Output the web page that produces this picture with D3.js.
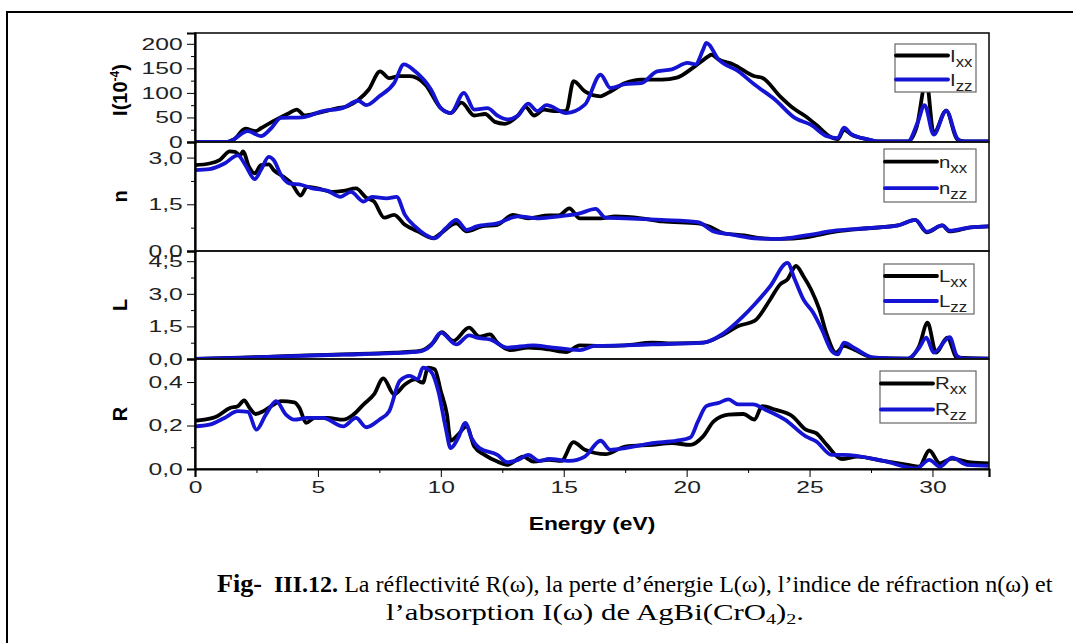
<!DOCTYPE html>
<html>
<head>
<meta charset="utf-8">
<script src="https://cdn.jsdelivr.net/npm/d3@7"></script>
<style>
  body { margin: 0; background: #fff; }
  svg { display: block; }
</style>
</head>
<body>
<svg id="fig" width="1073" height="643"></svg>
<script>
// energy axis
var energyTicks = [0, 5, 10, 15, 20, 25, 30];
var energyMinor = [2.5, 7.5, 12.5, 17.5, 22.5, 27.5];

// I(10^-4)
var Ixx = [[0,0],[1.2,0],[1.6,6],[2.05,27],[2.47,22],[2.68,28],[3.4,48],[3.8,58],[4.14,66],[4.46,54],[4.98,59],[5.8,69],[6.2,73],[6.65,86],[7.07,107],[7.53,144],[7.9,130],[8.3,134],[8.74,134],[9.37,117],[10.0,69],[10.4,59],[10.84,80],[11.36,54],[11.8,57],[12.2,41],[12.6,37],[13.1,52],[13.45,71],[13.8,54],[14.2,66],[14.6,63],[15.1,63],[15.4,124],[15.86,103],[16.5,93],[16.8,100],[17.5,120],[18.15,127],[19.0,127],[19.6,131],[20.25,151],[20.9,175],[21.0,178],[21.3,168],[21.9,158],[22.76,134],[23.07,131],[23.8,93],[24.33,69],[24.85,52],[25.27,35],[25.8,12],[26.15,6],[26.4,25],[26.7,15],[27.4,5],[27.8,1],[29.0,1],[29.35,29],[29.75,125],[30.05,18],[30.56,64],[31.0,6],[31.3,1],[32.3,1]];
var Izz = [[0,0],[1.2,0],[1.4,1],[2.15,22],[2.68,12],[3.1,28],[3.5,49],[4.35,50],[5.2,63],[6.0,69],[6.65,84],[6.97,75],[7.5,93],[8.1,120],[8.5,158],[8.95,144],[9.6,107],[10.0,69],[10.4,59],[10.94,100],[11.36,66],[11.9,69],[12.3,54],[12.7,46],[13.14,54],[13.55,78],[13.93,63],[14.3,75],[15.1,59],[15.86,76],[16.5,137],[16.9,110],[17.5,118],[18.15,120],[18.8,144],[19.4,148],[20.04,161],[20.36,158],[20.67,188],[20.8,202],[21.3,168],[22.1,144],[22.76,117],[23.6,86],[24.4,49],[25.06,35],[25.7,12],[26.15,8],[26.4,29],[26.7,16],[27.4,5],[27.8,1],[29.0,1],[29.4,40],[29.68,75],[30.05,15],[30.56,64],[31.0,8],[31.2,1],[32.3,1]];

// n
var nxx = [[0,2.76],[0.59,2.81],[1.0,2.92],[1.42,3.2],[1.63,3.18],[1.84,3.07],[1.95,3.2],[2.2,2.7],[2.43,2.49],[2.68,2.76],[3.0,2.78],[3.2,2.6],[3.6,2.38],[3.93,2.17],[4.3,1.78],[4.56,2.06],[4.98,2.01],[5.6,1.9],[6.03,1.93],[6.55,2.01],[6.97,1.71],[7.28,1.59],[7.7,1.07],[8.1,1.16],[8.54,0.84],[9.06,0.63],[9.69,0.41],[10.0,0.57],[10.63,0.89],[11.05,0.63],[11.67,0.79],[12.3,0.84],[12.93,1.16],[13.56,1.05],[14.4,1.14],[14.8,1.14],[15.23,1.37],[15.65,1.05],[16.5,1.05],[17.1,1.11],[18.16,1.05],[19.0,0.95],[20.46,0.89],[20.9,0.79],[21.5,0.57],[22.34,0.5],[23.0,0.41],[23.8,0.39],[24.85,0.44],[26.1,0.63],[27.36,0.73],[28.6,0.82],[29.3,1.0],[29.77,0.6],[30.4,0.82],[30.7,0.63],[31.55,0.76],[32.3,0.79]];
var nzz = [[0,2.6],[0.59,2.63],[1.2,2.81],[1.74,3.07],[2.05,2.76],[2.43,2.31],[2.68,2.6],[3.0,3.02],[3.2,2.92],[3.5,2.44],[3.83,2.17],[4.35,2.12],[4.77,2.01],[5.4,1.93],[5.92,1.74],[6.34,1.9],[6.86,1.59],[7.2,1.74],[7.8,1.69],[8.2,1.74],[8.54,1.16],[8.95,0.79],[9.75,0.41],[10.2,0.73],[10.63,1.0],[11.05,0.68],[11.46,0.79],[12.3,0.89],[13.14,1.11],[14.0,1.05],[14.8,1.11],[15.65,1.21],[16.3,1.35],[16.7,1.07],[17.5,1.05],[19.0,1.0],[20.46,0.93],[21.1,0.63],[21.9,0.52],[22.76,0.41],[23.8,0.39],[24.85,0.5],[26.1,0.66],[27.36,0.73],[28.6,0.82],[29.3,1.0],[29.77,0.62],[30.4,0.82],[30.7,0.65],[31.55,0.76],[32.3,0.79]];

// L
var Lxx = [[0,0],[1.84,0.06],[3.93,0.14],[6.03,0.21],[8.1,0.29],[9.16,0.37],[9.69,0.75],[10.04,1.24],[10.5,0.83],[11.15,1.44],[11.57,1.03],[12.0,1.13],[12.3,0.75],[12.82,0.41],[13.56,0.52],[14.4,0.44],[15.1,0.32],[15.65,0.63],[16.5,0.6],[17.5,0.63],[18.6,0.75],[19.6,0.72],[20.67,0.75],[21.5,1.13],[22.1,1.52],[22.76,1.75],[23.4,2.74],[23.8,3.43],[24.1,3.66],[24.45,4.28],[24.75,3.81],[25.06,3.2],[25.4,2.28],[25.7,1.13],[26.07,0.29],[26.4,0.6],[26.8,0.44],[27.6,0.06],[29.0,0.02],[29.46,0.6],[29.8,1.67],[30.15,0.29],[30.6,0.98],[31.0,0.06],[32.3,0.02]];
var Lzz = [[0,0],[1.84,0.05],[3.93,0.13],[6.03,0.2],[8.1,0.27],[9.16,0.35],[9.58,0.6],[10.0,1.21],[10.63,0.67],[11.15,1.09],[11.46,0.98],[12.0,0.9],[12.7,0.52],[13.77,0.63],[14.4,0.55],[15.65,0.41],[16.27,0.6],[17.5,0.63],[18.6,0.67],[20.67,0.75],[21.5,1.18],[22.24,1.9],[22.76,2.51],[23.4,3.35],[24.1,4.42],[24.4,3.66],[24.75,2.74],[25.15,2.13],[25.5,1.36],[25.9,0.37],[26.15,0.21],[26.4,0.75],[26.8,0.52],[27.6,0.06],[29.0,0.02],[29.46,0.52],[29.75,0.98],[30.05,0.29],[30.7,1.0],[31.0,0.14],[31.3,0.02],[32.3,0.02]];

// R
var Rxx = [[0,0.222],[0.38,0.227],[0.9,0.243],[1.42,0.281],[1.74,0.289],[2.0,0.315],[2.22,0.281],[2.47,0.253],[2.78,0.266],[3.1,0.289],[3.5,0.312],[4.04,0.307],[4.25,0.281],[4.52,0.212],[4.87,0.235],[5.4,0.235],[6.03,0.227],[6.44,0.25],[6.86,0.297],[7.28,0.343],[7.66,0.417],[8.1,0.343],[8.54,0.389],[8.95,0.412],[9.27,0.397],[9.48,0.466],[9.75,0.459],[10.0,0.358],[10.25,0.25],[10.4,0.13],[10.7,0.158],[11.05,0.196],[11.36,0.103],[11.78,0.065],[12.3,0.034],[12.7,0.019],[13.35,0.057],[13.77,0.034],[14.4,0.042],[14.9,0.037],[15.4,0.124],[15.86,0.088],[16.7,0.068],[17.5,0.103],[18.6,0.111],[19.4,0.119],[20.15,0.111],[20.67,0.15],[21.1,0.219],[21.7,0.25],[22.3,0.253],[22.76,0.227],[23.07,0.289],[23.6,0.273],[24.3,0.243],[24.85,0.181],[25.27,0.165],[25.7,0.111],[26.3,0.046],[26.95,0.057],[28.0,0.037],[29.0,0.019],[29.46,0.011],[29.87,0.085],[30.3,0.026],[30.8,0.048],[31.55,0.03],[32.3,0.026]];
var Rzz = [[0,0.196],[0.59,0.204],[1.2,0.235],[1.74,0.266],[2.15,0.263],[2.5,0.181],[2.88,0.25],[3.3,0.312],[3.7,0.25],[4.04,0.227],[4.56,0.235],[5.2,0.235],[6.03,0.196],[6.55,0.235],[6.97,0.192],[7.5,0.227],[7.9,0.266],[8.33,0.405],[8.74,0.428],[9.06,0.412],[9.27,0.466],[9.58,0.451],[9.9,0.358],[10.2,0.188],[10.4,0.096],[10.7,0.142],[11.0,0.212],[11.25,0.142],[11.57,0.096],[12.3,0.065],[12.7,0.031],[13.14,0.042],[13.56,0.065],[14.0,0.037],[14.4,0.046],[15.23,0.037],[15.86,0.057],[16.5,0.13],[16.9,0.088],[17.5,0.096],[18.6,0.119],[19.6,0.13],[20.15,0.145],[20.46,0.219],[20.8,0.289],[21.3,0.304],[21.7,0.32],[22.1,0.297],[22.7,0.297],[23.2,0.273],[24.0,0.227],[24.85,0.15],[25.27,0.127],[25.9,0.065],[26.4,0.065],[28.0,0.037],[29.35,0.003],[29.87,0.042],[30.3,0.011],[30.8,0.052],[31.4,0.019],[32.3,0.015]];

var svg = d3.select("#fig");
var left = 195, right = 989;
var blue = "#1414d2";
var sans = "Liberation Sans, Arial, sans-serif";
var serif = "Liberation Serif, Times New Roman, serif";
var stretch = 1.45; // the source picture is widened, so glyphs are too
var comma = function(f){ return function(d){ return d3.format(f)(d).replace(".", ","); }; };

var x = d3.scaleLinear().domain([0, 32.3]).range([left, right]);

// outer frame of the figure
svg.append("rect")
  .attr("x", 7).attr("y", 12).attr("width", 1090).attr("height", 650)
  .attr("fill", "none").attr("stroke", "#000").attr("stroke-width", 2);

var panels = [
  {name:"I", top:33, bottom:142, max:222, ticks:[0,50,100,150,200], minor:[25,75,125,175], fmt:d3.format("d"),
   xx:Ixx, zz:Izz, sym:"I", lg:[895,44,81,48]},
  {name:"n", top:142, bottom:251, max:3.5, ticks:[0,1.5,3], minor:[0.75,2.25], fmt:comma(".1f"),
   xx:nxx, zz:nzz, sym:"n", lg:[884,149,92,53]},
  {name:"L", top:251, bottom:359, max:4.97, ticks:[0,1.5,3,4.5], minor:[0.75,2.25,3.75], fmt:comma(".1f"),
   xx:Lxx, zz:Lzz, sym:"L", lg:[884,264,90,50]},
  {name:"R", top:359, bottom:469, max:0.506, ticks:[0,0.2,0.4], minor:[0.1,0.3], fmt:comma(".1f"),
   xx:Rxx, zz:Rzz, sym:"R", lg:[880,371,96,52]}
];

panels.forEach(function(p, i){
  var y = d3.scaleLinear().domain([0, p.max]).range([p.bottom, p.top]);
  var g = svg.append("g");

  g.append("clipPath").attr("id", "clip" + i)
    .append("rect").attr("x", left).attr("y", p.top).attr("width", right - left).attr("height", p.bottom - p.top);

  var line = d3.line()
    .x(function(d){ return x(d[0]); })
    .y(function(d){ return y(d[1]); })
    .curve(d3.curveMonotoneX);

  var lines = g.append("g").attr("clip-path", "url(#clip" + i + ")");
  lines.append("path").datum(p.xx)
    .attr("d", line).attr("fill", "none").attr("stroke", "#000")
    .attr("stroke-width", 3.8).attr("stroke-linejoin", "round");
  lines.append("path").datum(p.zz)
    .attr("d", line).attr("fill", "none").attr("stroke", blue)
    .attr("stroke-width", 3.8).attr("stroke-linejoin", "round");

  // panel box
  g.append("rect")
    .attr("x", left).attr("y", p.top).attr("width", right - left).attr("height", p.bottom - p.top)
    .attr("fill", "none").attr("stroke", "#111").attr("stroke-width", 1.6);

  // left axis
  var ax = g.append("g").attr("transform", "translate(" + left + ",0)")
    .call(d3.axisLeft(y).tickValues(p.ticks).tickFormat(p.fmt).tickSize(8).tickPadding(0.5));
  ax.select(".domain").attr("stroke-width", 2.2);
  ax.selectAll("text").attr("font-family", sans)
    .attr("font-size", 17).attr("fill", "#222")
    .attr("transform", "scale(" + stretch + ",1)");
  g.append("g").attr("transform", "translate(" + left + ",0)")
    .call(d3.axisLeft(y).tickValues(p.minor).tickFormat("").tickSize(4))
    .select(".domain").remove();

  // axis title
  var title = g.append("text")
    .attr("transform", "translate(127," + ((p.top + p.bottom) / 2) + ") rotate(-90)")
    .attr("text-anchor", "middle")
    .attr("font-family", sans)
    .attr("font-weight", "bold").attr("font-size", 20);
  if (p.name === "I") {
    title.attr("transform", "translate(127,90) rotate(-90)");
    title.append("tspan").text("I(10");
    title.append("tspan").attr("font-size", 12).attr("dy", -8).text("-4");
    title.append("tspan").attr("dy", 8).text(")");
  } else {
    title.text(p.name);
  }

  // legend
  var lg = p.lg;
  var leg = g.append("g");
  leg.append("rect").attr("x", lg[0]).attr("y", lg[1]).attr("width", lg[2]).attr("height", lg[3])
    .attr("fill", "#fff").attr("stroke", "#666").attr("stroke-width", 1.2);
  [["xx", "#000", 0.24], ["zz", blue, 0.74]].forEach(function(s){
    var ly = lg[1] + lg[3] * s[2];
    leg.append("line").attr("x1", lg[0] + 1).attr("x2", lg[0] + 53).attr("y1", ly).attr("y2", ly)
      .attr("stroke", s[1]).attr("stroke-width", 3.8).attr("stroke-linecap", "round");
    var t = leg.append("text")
      .attr("transform", "translate(" + (lg[0] + 55) + "," + (ly + 6) + ") scale(1.2,1)")
      .attr("font-family", sans).attr("font-size", 17).attr("fill", "#222");
    t.append("tspan").text(p.sym);
    t.append("tspan").attr("font-size", 14).attr("dy", 5).text(s[0]);
  });
});

// bottom axis
var bx = svg.append("g").attr("transform", "translate(0,469)")
  .call(d3.axisBottom(x).tickValues(energyTicks).tickSize(8).tickPadding(4));
bx.select(".domain").attr("stroke-width", 2.2);
bx.selectAll("text").attr("font-family", sans)
  .attr("font-size", 17).attr("fill", "#222")
  .attr("transform", "scale(" + stretch + ",1)");
svg.append("g").attr("transform", "translate(0,469)")
  .call(d3.axisBottom(x).tickValues(energyMinor).tickFormat("").tickSize(4))
  .select(".domain").remove();

svg.append("text").attr("transform", "translate(592,530) scale(1.2,1)").attr("text-anchor", "middle")
  .attr("font-family", sans)
  .attr("font-weight", "bold").attr("font-size", 19).text("Energy (eV)");

// caption: widen each line to the width it has in the source
function fitLine(t, x0, y0, w) {
  var n = t.node().getComputedTextLength();
  t.attr("transform", "translate(" + x0 + "," + y0 + ") scale(" + (w / n) + ",1)");
}

var cap = svg.append("text")
  .attr("font-family", serif).attr("font-size", 23);
cap.append("tspan").attr("font-weight", "bold").attr("font-size", 25).text("Fig-");
cap.append("tspan").attr("font-weight", "bold").text("\u00a0\u00a0III.12.");
cap.append("tspan").text(" La réflectivité R(ω), la perte d’énergie L(ω), l’indice de réfraction n(ω) et");
fitLine(cap, 217, 592, 836);

var cap2 = svg.append("text")
  .attr("font-family", serif).attr("font-size", 23);
cap2.append("tspan").text("l’absorption I(ω) de AgBi(CrO");
cap2.append("tspan").attr("font-size", 15).attr("dy", 4).text("4");
cap2.append("tspan").attr("dy", -4).text(")");
cap2.append("tspan").attr("font-size", 15).attr("dy", 4).text("2");
cap2.append("tspan").attr("dy", -4).text(".");
fitLine(cap2, 386, 620, 418);
</script>
</body>
</html>
